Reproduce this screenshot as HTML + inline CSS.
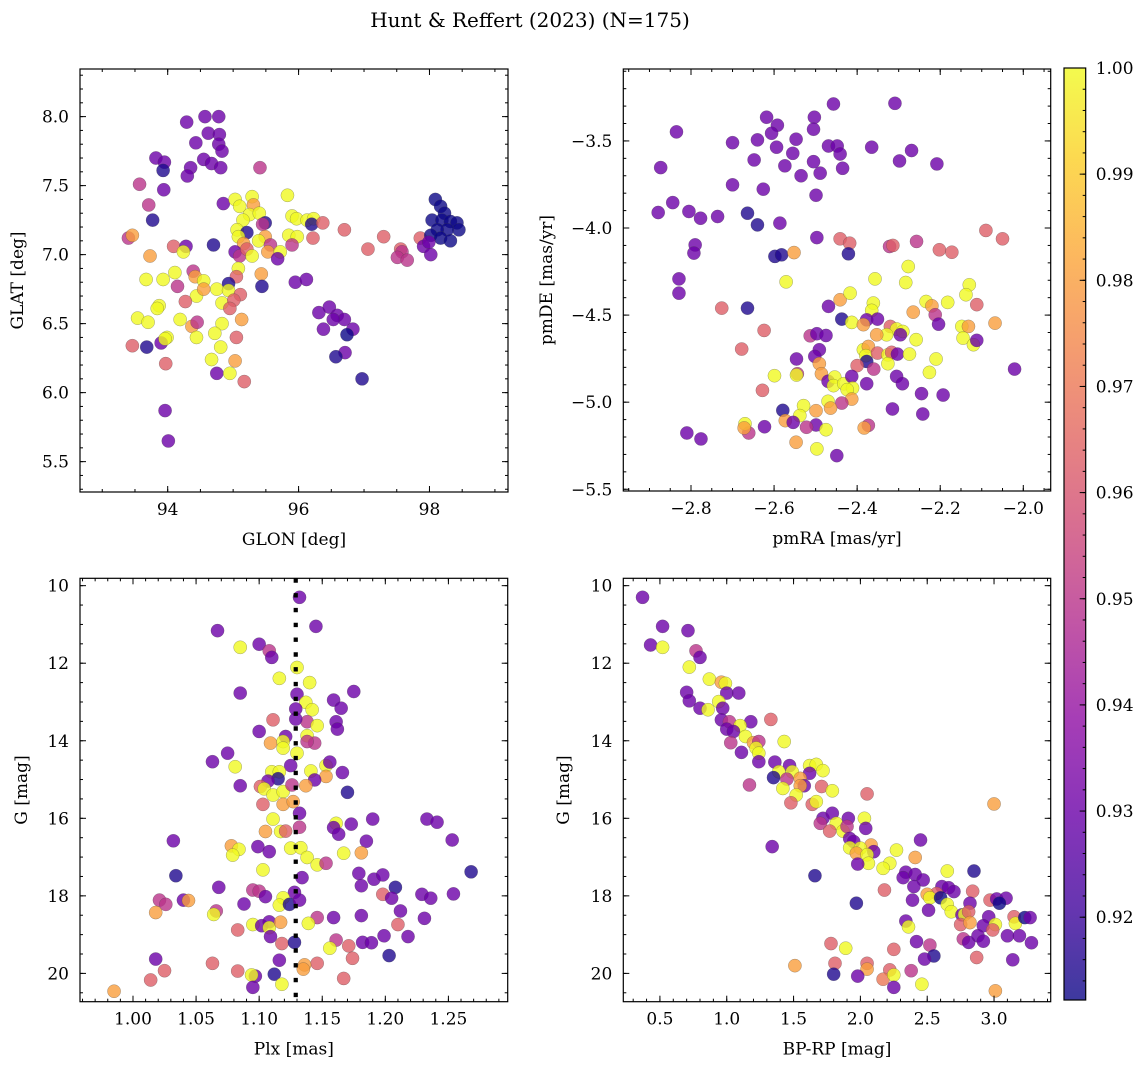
<!DOCTYPE html>
<html><head><meta charset="utf-8"><style>
html,body{margin:0;padding:0;background:#fff}
svg{display:block}
text{font-family:"DejaVu Serif","Liberation Serif",serif;fill:#000}
</style></head><body>
<svg id="fig" xmlns="http://www.w3.org/2000/svg" width="1148" height="1068" viewBox="0 0 1148 1068">
<text x="530" y="27" font-size="20" text-anchor="middle">Hunt &amp; Reffert (2023) (N=175)</text>
</svg>
<script>
// ---- Panel 1: GLON vs GLAT ----
const p1x=[94.29,94.57,94.78,94.62,94.79,94.43,94.78,94.83,93.82,93.95,
93.93,94.55,94.67,94.81,94.35,94.30,95.41,93.57,93.94,93.71,
93.77,94.85,95.03,95.29,95.10,95.31,95.83,95.25,95.40,95.15,
95.49,95.45,95.90,95.97,96.13,96.23,96.20,96.37,95.06,95.21,
95.08,95.49,95.85,95.98,96.22,96.70,97.30,97.06,93.40,93.46,
94.09,94.28,94.24,94.70,95.39,95.16,95.57,95.90,93.73,95.03,
95.10,95.21,95.29,95.53,95.72,95.68,97.56,97.58,97.51,97.66,
97.86,97.91,98.02,98.09,98.17,98.23,98.04,98.19,98.32,98.42,
98.45,98.27,98.12,98.02,98.17,98.32,97.99,93.67,93.93,94.11,
94.39,94.42,94.55,95.08,95.05,94.93,95.43,95.44,94.15,94.44,
94.55,94.75,94.93,95.11,94.83,95.01,94.95,94.27,93.87,93.84,
95.95,96.12,96.31,96.47,96.59,96.70,96.53,96.83,96.38,96.74,
96.71,96.57,96.97,93.54,93.70,94.19,94.37,94.45,94.83,95.13,
94.44,94.72,95.05,93.99,93.90,93.96,93.46,93.68,94.81,94.67,
95.03,93.97,94.75,94.95,95.17,93.96,94.01];
const p1y=[7.96,8.00,8.00,7.88,7.87,7.81,7.80,7.75,7.70,7.67,
7.61,7.69,7.66,7.63,7.63,7.57,7.63,7.51,7.47,7.36,
7.25,7.37,7.40,7.42,7.35,7.36,7.43,7.29,7.30,7.25,
7.23,7.22,7.28,7.26,7.25,7.26,7.22,7.23,7.18,7.16,
7.13,7.13,7.14,7.13,7.12,7.18,7.13,7.04,7.12,7.14,
7.06,7.06,7.02,7.07,7.10,7.08,7.07,7.07,6.99,7.02,
6.99,7.04,6.99,7.02,7.02,6.97,7.04,7.02,6.98,6.96,
7.12,7.06,7.00,7.40,7.35,7.30,7.25,7.25,7.24,7.23,
7.18,7.18,7.18,7.14,7.12,7.10,7.09,6.82,6.82,6.87,
6.88,6.84,6.81,6.90,6.84,6.79,6.86,6.77,6.77,6.70,
6.75,6.75,6.74,6.71,6.65,6.67,6.61,6.66,6.63,6.61,
6.80,6.82,6.58,6.62,6.56,6.53,6.53,6.46,6.46,6.42,
6.29,6.26,6.10,6.54,6.51,6.53,6.48,6.51,6.50,6.53,
6.40,6.43,6.40,6.40,6.36,6.39,6.34,6.33,6.33,6.24,
6.23,6.21,6.14,6.14,6.08,5.87,5.65];
const p1p=[.93,.93,.93,.93,.93,.93,.93,.93,.93,.93,
.915,.93,.93,.93,.93,.93,.95,.95,.93,.95,
.915,.93,1,1,1,.98,1,1,1,1,
.915,.95,1,1,1,1,.915,.963,1,.915,
1,.98,1,1,.963,.963,.963,.963,.95,.98,
.963,.93,1,.915,1,.98,.95,.95,.98,.93,
.95,.963,1,.98,1,.93,.963,.95,.95,.95,
.963,.93,.93,.912,.912,.912,.912,.912,.912,.912,
.912,.912,.912,.912,.912,.912,.93,1,1,1,
.95,.98,1,1,.963,.915,.98,.915,.95,1,
.98,1,1,.963,1,.963,.963,.963,1,1,
.93,.93,.93,.93,.93,.93,.93,.93,.93,.912,
.93,.915,.915,1,1,1,.98,.95,1,.98,
1,1,.963,1,.93,1,.963,.915,1,1,
.98,.963,.93,1,.963,.93,.93];

// ---- Panel 2: pmRA vs pmDE ----
const p2x=[-2.457,-2.309,-2.618,-2.503,-2.592,-2.835,-2.606,-2.505,-2.70,-2.64,
-2.547,-2.469,-2.448,-2.594,-2.555,-2.441,-2.365,-2.269,-2.648,-2.505,
-2.298,-2.208,-2.873,-2.574,-2.489,-2.535,-2.435,-2.70,-2.626,-2.499,
-2.844,-2.879,-2.805,-2.777,-2.736,-2.664,-2.64,-2.586,-2.497,-2.79,
-2.793,-2.598,-2.582,-2.552,-2.441,-2.418,-2.421,-2.322,-2.314,-2.257,
-2.202,-2.172,-2.09,-2.05,-2.829,-2.829,-2.571,-2.357,-2.277,-2.283,
-2.13,-2.138,-2.726,-2.664,-2.469,-2.441,-2.417,-2.361,-2.365,-2.437,
-2.377,-2.351,-2.413,-2.385,-2.234,-2.22,-2.182,-2.112,-2.265,-2.212,
-2.204,-2.068,-2.148,-2.132,-2.145,-2.12,-2.112,-2.32,-2.305,-2.29,
-2.296,-2.329,-2.353,-2.258,-2.624,-2.678,-2.513,-2.497,-2.475,-2.491,
-2.502,-2.546,-2.491,-2.385,-2.373,-2.379,-2.377,-2.351,-2.326,-2.317,
-2.303,-2.326,-2.274,-2.21,-2.36,-2.40,-2.226,-2.021,-2.599,-2.544,
-2.546,-2.486,-2.47,-2.454,-2.457,-2.432,-2.413,-2.411,-2.424,-2.377,
-2.305,-2.291,-2.245,-2.193,-2.628,-2.413,-2.437,-2.47,-2.464,-2.499,
-2.529,-2.538,-2.579,-2.315,-2.242,-2.573,-2.554,-2.499,-2.522,-2.623,
-2.661,-2.67,-2.672,-2.475,-2.373,-2.383,-2.81,-2.776,-2.547,-2.497,
-2.449];
const p2y=[-3.288,-3.284,-3.364,-3.364,-3.41,-3.448,-3.456,-3.433,-3.51,-3.494,
-3.49,-3.529,-3.529,-3.536,-3.571,-3.575,-3.536,-3.555,-3.609,-3.619,
-3.615,-3.632,-3.653,-3.643,-3.685,-3.70,-3.657,-3.752,-3.777,-3.812,
-3.854,-3.911,-3.905,-3.944,-3.934,-3.915,-3.982,-3.972,-4.055,-4.097,
-4.144,-4.163,-4.154,-4.141,-4.062,-4.087,-4.148,-4.106,-4.10,-4.077,
-4.125,-4.139,-4.014,-4.062,-4.292,-4.374,-4.309,-4.292,-4.221,-4.313,
-4.326,-4.383,-4.46,-4.46,-4.45,-4.412,-4.374,-4.431,-4.473,-4.523,
-4.527,-4.523,-4.542,-4.555,-4.422,-4.447,-4.427,-4.44,-4.483,-4.498,
-4.552,-4.546,-4.565,-4.565,-4.632,-4.67,-4.645,-4.565,-4.58,-4.594,
-4.613,-4.613,-4.613,-4.641,-4.588,-4.695,-4.619,-4.607,-4.617,-4.699,
-4.737,-4.752,-4.779,-4.699,-4.68,-4.733,-4.766,-4.718,-4.728,-4.714,
-4.724,-4.779,-4.724,-4.752,-4.81,-4.79,-4.829,-4.81,-4.848,-4.837,
-4.844,-4.837,-4.88,-4.856,-4.905,-4.894,-4.852,-4.919,-4.928,-4.894,
-4.852,-4.894,-4.951,-4.959,-4.932,-4.982,-5.005,-4.995,-5.034,-5.049,
-5.02,-5.077,-5.047,-5.039,-5.068,-5.106,-5.116,-5.131,-5.144,-5.141,
-5.177,-5.124,-5.148,-5.158,-5.133,-5.148,-5.177,-5.211,-5.23,-5.268,
-5.307];
const p2p=[.93,.93,.93,.93,.93,.93,.93,.93,.93,.93,
.93,.93,.93,.93,.93,.93,.93,.93,.93,.93,
.93,.93,.93,.93,.93,.93,.93,.93,.93,.93,
.93,.93,.93,.93,.93,.915,.915,.93,.93,.93,
.93,.915,.915,.98,.963,.963,.915,.95,.963,.95,
.963,.963,.963,.963,.93,.93,1,1,1,1,
1,1,.963,.915,.93,.98,1,1,1,.915,
.93,.93,1,.98,1,.98,1,.963,.98,.95,
.93,.98,1,.98,1,1,.93,.963,1,1,
.93,1,.98,1,.963,.963,.95,.93,.93,.93,
.93,.93,.98,1,.98,1,.915,.963,1,.963,
.93,1,1,1,.95,.963,1,.93,1,.95,
1,.98,.93,1,1,1,.93,1,1,.93,
.93,.93,.93,.93,.963,.98,.95,1,.98,.98,
1,1,.915,.93,.93,.98,.93,.93,.95,.93,
.95,1,.98,1,.95,.98,.93,.93,.98,1,
.93];

// ---- Panel 3: Plx vs G ----
const p3x=[1.132,1.067,1.145,1.085,1.100,1.108,1.110,1.130,1.116,1.140,
1.085,1.175,1.130,1.137,1.159,1.165,1.142,1.129,1.111,1.138,
1.146,1.161,1.162,1.100,1.129,1.121,1.138,1.144,1.138,1.109,
1.119,1.119,1.130,1.075,1.063,1.081,1.125,1.141,1.153,1.156,
1.153,1.166,1.144,1.110,1.116,1.115,1.107,1.085,1.101,1.104,
1.111,1.119,1.126,1.137,1.170,1.103,1.119,1.127,1.132,1.111,
1.161,1.159,1.173,1.190,1.163,1.233,1.241,1.253,1.032,1.105,
1.117,1.121,1.132,1.185,1.078,1.084,1.079,1.099,1.108,1.125,
1.133,1.138,1.167,1.181,1.146,1.153,1.103,1.034,1.268,1.134,
1.179,1.191,1.198,1.068,1.181,1.208,1.095,1.100,1.128,1.105,
1.198,1.205,1.229,1.236,1.254,1.021,1.026,1.040,1.044,1.119,
1.116,1.124,1.132,1.088,1.018,1.066,1.064,1.146,1.159,1.181,
1.212,1.231,1.095,1.102,1.108,1.108,1.117,1.139,1.210,1.083,
1.109,1.199,1.218,1.118,1.128,1.161,1.156,1.171,1.182,1.189,
1.018,1.116,1.174,1.203,1.063,1.146,1.136,1.135,1.025,1.083,
1.112,1.097,1.094,1.167,1.014,1.118,1.095,0.985];
const p3y=[10.30,11.16,11.05,11.59,11.51,11.68,11.85,12.11,12.39,12.50,
12.77,12.73,12.80,13.01,12.95,13.16,13.20,13.18,13.46,13.51,
13.61,13.51,13.70,13.76,13.44,13.89,13.87,14.06,14.02,14.06,
14.02,14.19,14.32,14.32,14.54,14.67,14.64,14.78,14.64,14.55,
14.92,14.82,15.01,14.80,14.80,14.98,15.04,15.16,15.18,15.24,
15.40,15.31,15.14,15.16,15.33,15.64,15.64,15.57,15.87,16.02,
16.13,16.24,16.15,16.02,16.41,16.02,16.10,16.56,16.58,16.34,
16.34,16.33,16.23,16.59,16.71,16.80,16.95,16.73,16.86,16.77,
16.76,17.01,16.90,16.89,17.20,17.16,17.33,17.48,17.38,17.53,
17.42,17.57,17.46,17.78,17.74,17.78,17.85,17.88,17.91,18.02,
17.96,18.06,17.96,18.06,17.95,18.11,18.22,18.11,18.12,18.05,
18.24,18.22,18.11,18.21,18.43,18.39,18.48,18.56,18.56,18.51,
18.39,18.58,18.74,18.77,18.67,18.82,18.68,18.71,18.74,18.88,
19.05,19.03,19.05,19.23,19.20,19.14,19.35,19.29,19.20,19.21,
19.63,19.66,19.61,19.54,19.74,19.74,19.78,19.89,19.93,19.94,
20.02,20.07,20.04,20.13,20.17,20.28,20.36,20.46];
const p3p=[.93,.93,.93,1,.93,.95,.93,1,1,1,
.93,.93,.93,1,.93,.93,1,.93,.963,.95,
1,.93,.93,.93,.93,.93,1,.95,.95,.98,
1,1,1,.93,.93,1,.93,1,1,.93,
.98,.93,.93,1,1,.915,.93,.93,.963,1,
1,1,.95,.98,.915,.963,.98,.98,.93,1,
1,.93,.93,.93,.93,.93,.93,.93,.93,.98,
1,.963,.95,.93,.98,1,1,.93,.93,1,
1,1,1,.98,1,.95,1,.915,.915,.93,
.93,.93,.93,.93,.93,.915,.95,.95,.93,.93,
.963,.93,.93,.93,.93,.95,.95,.93,.98,1,
1,.915,.93,.93,.98,.95,1,.95,.93,.93,
.93,.93,1,.93,.93,1,.98,1,.963,.963,
.93,.93,.93,.963,.915,.95,1,.963,.93,.93,
.93,.93,.963,.915,.963,.963,.98,.98,.963,.963,
.915,.93,1,.963,.963,1,.93,.98];
const plxRef=1.129;

// ---- Panel 4: BP-RP vs G ----
const p4x=[0.37,0.52,0.43,0.52,0.71,0.77,0.80,0.72,0.87,0.96,
0.99,0.70,0.72,1.00,1.09,0.94,0.97,0.80,0.86,0.96,
1.02,1.18,1.33,1.10,1.00,1.05,1.14,1.20,1.24,1.03,
1.43,1.22,1.24,1.11,1.24,1.36,1.47,1.39,1.49,1.62,
1.67,1.72,1.62,1.35,1.45,1.55,1.58,1.55,1.17,1.42,
1.52,1.71,1.79,2.05,1.48,1.64,1.67,3.00,1.72,1.79,
1.70,1.82,1.77,1.87,1.91,1.90,2.03,2.04,1.92,1.95,
2.08,2.10,1.92,2.00,1.97,2.05,2.06,1.98,1.34,2.27,
2.22,2.17,2.41,2.45,1.66,2.34,2.32,2.41,2.47,2.40,
2.65,2.85,2.18,2.61,2.66,2.70,2.57,2.50,2.52,2.39,
2.60,2.84,1.97,2.51,2.65,2.68,2.82,2.97,3.02,3.09,
3.04,2.76,2.78,2.81,2.75,2.82,2.34,2.36,2.96,2.92,
3.01,2.99,3.15,3.16,3.23,3.27,3.10,3.19,3.28,2.77,
2.81,2.88,2.92,2.42,2.52,1.78,1.89,2.25,2.55,2.48,
2.87,3.14,1.51,1.81,2.05,2.05,2.22,2.38,1.80,1.98,
2.17,2.25,2.25,2.46,3.01];
const p4y=[10.30,11.05,11.53,11.59,11.16,11.68,11.85,12.10,12.41,12.49,
12.52,12.75,12.97,12.77,12.77,12.99,13.16,13.16,13.20,13.46,
13.51,13.51,13.45,13.61,13.70,13.76,13.89,14.05,14.02,14.05,
14.02,14.19,14.32,14.30,14.54,14.55,14.64,14.80,14.80,14.64,
14.61,14.77,14.84,14.95,14.99,14.97,15.16,15.16,15.14,15.23,
15.40,15.18,15.29,15.37,15.60,15.64,15.57,15.63,16.00,15.87,
16.13,16.13,16.33,16.33,16.00,16.21,16.00,16.26,16.52,16.60,
16.69,16.86,16.76,16.77,16.90,16.94,17.16,17.18,16.73,16.82,
17.16,17.29,17.01,16.56,17.48,17.39,17.53,17.45,17.59,17.76,
17.36,17.36,17.85,17.76,17.79,17.89,17.94,17.96,18.05,18.11,
18.05,17.88,18.19,18.37,18.22,18.41,18.19,18.11,18.08,18.06,
18.19,18.49,18.48,18.41,18.74,18.69,18.65,18.80,18.54,18.77,
18.74,18.88,18.54,18.71,18.56,18.56,19.03,19.03,19.21,19.11,
19.20,19.03,19.17,19.18,19.27,19.23,19.35,19.38,19.55,19.63,
19.59,19.65,19.80,19.74,19.74,19.89,19.91,19.93,20.02,20.07,
20.15,20.04,20.36,20.28,20.45];
const p4p=[.93,.93,.93,1,.93,.95,.93,1,1,.98,
1,.93,.93,.93,.93,1,.93,.93,1,.93,
.95,.93,.963,1,.93,.93,1,.98,.95,.95,
1,1,1,.93,.93,.93,.93,1,1,1,
1,1,.93,.915,.95,.98,.93,.98,.95,1,
1,.963,1,.963,.963,.963,1,.98,.93,.93,
.95,1,.963,1,.93,.95,1,.93,.93,.93,
.98,.93,1,1,.98,1,1,.93,.93,1,
1,1,.98,.93,.915,.93,.93,.93,.93,.93,
1,.915,.963,.93,.93,.93,.963,.98,1,.93,
.912,.963,.915,.93,1,1,.93,.963,.93,.93,
.912,.93,1,.963,.963,.98,.93,1,.93,.93,
1,.963,.963,1,.912,.93,.93,.93,.93,.95,
.93,.93,.93,.93,.95,.963,1,.963,.915,.93,
.963,.93,.98,.963,.963,.98,.963,.95,.915,.93,
.97,1,.93,1,.98];

// ---- Colorbar ----
const cbTicks=[0.92,0.93,0.94,0.95,0.96,0.97,0.98,0.99,1.00];
const VMIN=0.9122, VMAX=1.0;

const stops=['#0d0887','#41049d','#6a00a8','#8f0da4','#b12a90','#cc4778','#e16462','#f2844b','#fca636','#fcce25','#f0f921'];
function hex(h){return [parseInt(h.substr(1,2),16),parseInt(h.substr(3,2),16),parseInt(h.substr(5,2),16)];}
function plasma(t){t=Math.max(0,Math.min(1,t));const f=t*10,i=Math.min(9,Math.floor(f)),u=f-i;const a=hex(stops[i]),b=hex(stops[i+1]);
return 'rgb('+a.map((v,k)=>Math.round(v+(b[k]-v)*u)).join(',')+')';}
function cmap(v){return plasma((v-VMIN)/(VMAX-VMIN));}

const NS='http://www.w3.org/2000/svg';
const svg=document.getElementById('fig');
function mk(tag,attrs,parent){const e=document.createElementNS(NS,tag);for(const k in attrs)e.setAttribute(k,attrs[k]);(parent||svg).appendChild(e);return e;}
function fmt(v,d){const s=Math.abs(v).toFixed(d);return (v<-1e-9?'\u2212':'')+s;}

function panel(cfg){
  const g=mk('g',{});
  
  
  const [X0,Y0,X1,Y1]=cfg.box;
  const sx=v=>X0+(v-cfg.xr[0])/(cfg.xr[1]-cfg.xr[0])*(X1-X0);
  const sy=cfg.yinv? (v=>Y0+(v-cfg.yr[0])/(cfg.yr[1]-cfg.yr[0])*(Y1-Y0)) : (v=>Y1-(v-cfg.yr[0])/(cfg.yr[1]-cfg.yr[0])*(Y1-Y0));
  const pts=mk('g',{},g);
  
  
  for(let i=0;i<cfg.xs.length;i++){
    const c=mk('circle',{cx:sx(cfg.xs[i]),cy:sy(cfg.ys[i]),r:6.6,fill:cmap(cfg.ps[i]),'fill-opacity':0.8,stroke:'#444','stroke-width':0.4,'stroke-opacity':0.6},pts);
    
    
  }
  if(cfg.vline!==undefined){
    const l=mk('line',{x1:sx(cfg.vline),x2:sx(cfg.vline),y1:Y0,y2:Y1,stroke:'#000','stroke-width':4.2,'stroke-dasharray':'4.4,10.4'},g);
    
    
  }
  const tk=mk('g',{stroke:'#000','stroke-width':1},g);
  
  
  const eps=1e-9;
  function range(a,b,s){const r=[];const st=Math.ceil((a-eps)/s);for(let k=st;k*s<=b+eps;k++)r.push(k*s);return r;}
  range(cfg.xr[0],cfg.xr[1],cfg.xminor).forEach(v=>{const x=sx(v);mk('line',{x1:x,x2:x,y1:Y1,y2:Y1-3},tk);mk('line',{x1:x,x2:x,y1:Y0,y2:Y0+3},tk);});
  const ylo=Math.min(cfg.yr[0],cfg.yr[1]),yhi=Math.max(cfg.yr[0],cfg.yr[1]);
  range(ylo,yhi,cfg.yminor).forEach(v=>{const y=sy(v);mk('line',{x1:X0,x2:X0+3,y1:y,y2:y},tk);mk('line',{x1:X1,x2:X1-3,y1:y,y2:y},tk);});
  cfg.xticks.forEach(v=>{const x=sx(v);mk('line',{x1:x,x2:x,y1:Y1,y2:Y1-6},tk);mk('line',{x1:x,x2:x,y1:Y0,y2:Y0+6},tk);
    const t=mk('text',{x:x,y:Y1+23,'font-size':17,'text-anchor':'middle'},g);t.textContent=fmt(v,cfg.xd);
    });
  cfg.yticks.forEach(v=>{const y=sy(v);mk('line',{x1:X0,x2:X0+6,y1:y,y2:y},tk);mk('line',{x1:X1,x2:X1-6,y1:y,y2:y},tk);
    const t=mk('text',{x:X0-11,y:y+6,'font-size':17,'text-anchor':'end'},g);t.textContent=fmt(v,cfg.yd);
    });
  const fr=mk('rect',{x:X0,y:Y0,width:X1-X0,height:Y1-Y0,fill:'none',stroke:'#000','stroke-width':1.2},g);
  
  const xl=mk('text',{x:(X0+X1)/2,y:Y1+53,'font-size':17,'text-anchor':'middle'},g);xl.textContent=cfg.xlabel;
  
  const yx=cfg.ylx, yy=(Y0+Y1)/2;
  const yl=mk('text',{x:yx,y:yy,'font-size':17,'text-anchor':'middle',transform:'rotate(-90 '+yx+' '+yy+')'},g);yl.textContent=cfg.ylabel;
  
}
function steps(a,b,s){const r=[];for(let k=0;a+k*s<=b+1e-9;k++)r.push(+(a+k*s).toFixed(4));return r;}

panel({name:'panel-glon-glat',box:[80,69,508,492],xr:[92.66,99.2],yr:[5.28,8.345],xs:p1x,ys:p1y,ps:p1p,
  xticks:[94,96,98],xd:0,xminor:0.5,yticks:steps(5.5,8.0,0.5),yd:1,yminor:0.1,xlabel:'GLON [deg]',ylabel:'GLAT [deg]',ylx:23});
panel({name:'panel-proper-motion',box:[623.3,69,1050.7,491],xr:[-2.963,-1.934],yr:[-5.51,-3.087],xs:p2x,ys:p2y,ps:p2p,
  xticks:steps(-2.8,-2.0,0.2),xd:1,xminor:0.05,yticks:steps(-5.5,-3.5,0.5),yd:1,yminor:0.1,xlabel:'pmRA [mas/yr]',ylabel:'pmDE [mas/yr]',ylx:552});
panel({name:'panel-parallax-mag',box:[80,578.3,507.7,1001.7],xr:[0.958,1.297],yr:[9.81,20.73],yinv:true,xs:p3x,ys:p3y,ps:p3p,vline:plxRef,
  xticks:steps(1.0,1.25,0.05),xd:2,xminor:0.01,yticks:steps(10,20,2),yd:0,yminor:0.5,xlabel:'Plx [mas]',ylabel:'G [mag]',ylx:27});
panel({name:'panel-cmd',box:[623.3,578.3,1050.7,1001.7],xr:[0.226,3.424],yr:[9.81,20.73],yinv:true,xs:p4x,ys:p4y,ps:p4p,
  xticks:steps(0.5,3.0,0.5),xd:1,xminor:0.1,yticks:steps(10,20,2),yd:0,yminor:0.5,xlabel:'BP-RP [mag]',ylabel:'G [mag]',ylx:569});

// colorbar
(function(){
  const CX0=1064,CX1=1085.7,CY0=68,CY1=1000;
  const cy=v=>CY1-(v-VMIN)/(VMAX-VMIN)*(CY1-CY0);
  const g=mk('g',{});
  
  
  const defs=mk('defs',{},g);
  const lg=mk('linearGradient',{id:'cbg',x1:0,y1:1,x2:0,y2:0},defs);
  for(let i=0;i<=20;i++){mk('stop',{offset:i/20,'stop-color':plasma(i/20)},lg);}
  mk('rect',{x:CX0,y:CY0,width:CX1-CX0,height:CY1-CY0,fill:'url(#cbg)','fill-opacity':0.8},g);
  const tk=mk('g',{stroke:'#000','stroke-width':1},g);
  for(let v=0.914;v<1.0001;v+=0.002){const y=cy(v);mk('line',{x1:CX1,x2:CX1-3,y1:y,y2:y},tk);}
  cbTicks.forEach(v=>{const y=cy(v);mk('line',{x1:CX1,x2:CX1-6,y1:y,y2:y},tk);
    const t=mk('text',{x:CX1+10,y:y+6,'font-size':17},g);t.textContent=v.toFixed(2);
    });
  const fr=mk('rect',{x:CX0,y:CY0,width:CX1-CX0,height:CY1-CY0,fill:'none',stroke:'#000','stroke-width':1.2},g);
  
})();
</script>
</body></html>
